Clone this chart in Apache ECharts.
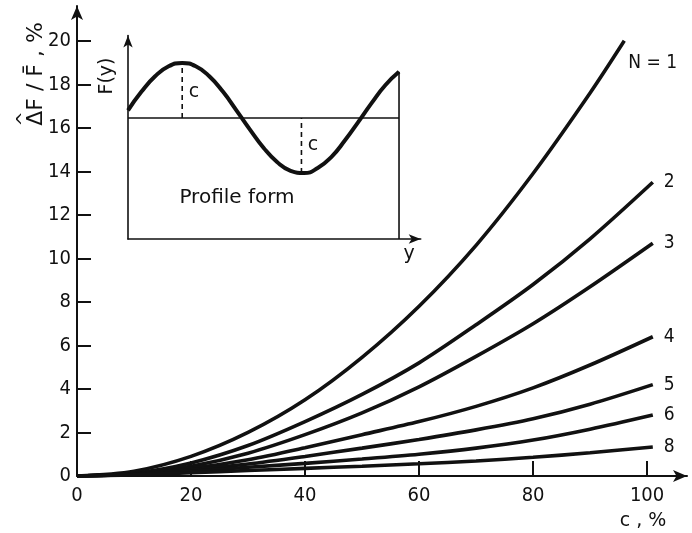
<!DOCTYPE html>
<html>
<head>
<meta charset="utf-8">
<script src="https://cdn.jsdelivr.net/npm/echarts@6/dist/echarts.min.js"></script>
<style>
html,body{margin:0;padding:0;background:#fff;}
#chart{width:692px;height:533px;}
</style>
</head>
<body>
<div id="chart"></div>
<script>
// ---- main chart data ----
const cN1 = [0, 10, 20, 30, 40, 50, 60, 70, 80, 90, 96];
const cOthers = [0, 10, 20, 30, 40, 50, 60, 70, 80, 90, 101];
const vN1 = [0, 0.22, 0.9, 2.0, 3.5, 5.45, 7.8, 10.6, 13.9, 17.6, 20.0];
const vN2 = [0, 0.13, 0.6, 1.4, 2.5, 3.75, 5.2, 6.95, 8.8, 10.9, 13.5];
const vN3 = [0, 0.11, 0.45, 1.05, 1.9, 2.9, 4.1, 5.5, 7.0, 8.7, 10.7];
const vN4 = [0, 0.09, 0.35, 0.75, 1.3, 1.9, 2.5, 3.2, 4.05, 5.1, 6.4];
const vN5 = [0, 0.08, 0.28, 0.55, 0.9, 1.28, 1.68, 2.12, 2.63, 3.3, 4.2];
const vN6 = [0, 0.07, 0.22, 0.4, 0.58, 0.78, 1.0, 1.28, 1.65, 2.15, 2.8];
const vN8 = [0, 0.05, 0.15, 0.25, 0.35, 0.45, 0.56, 0.69, 0.86, 1.07, 1.33];
const seriesNames = ['N = 1', '2', '3', '4', '5', '6', '8'];
const xTicks = [0, 20, 40, 60, 80, 100];
const yTicks = [0, 2, 4, 6, 8, 10, 12, 14, 16, 18, 20];

// ---- inset (profile form) data ----
const profileY = [0, 0.5, 1, 1.5, 2, 2.5, 3, 3.5, 4, 4.5, 5, 5.5, 6, 6.5, 7, 7.5, 8, 8.5, 9, 9.5, 10];
const profileF = [2.34, 2.68, 2.96, 3.14, 3.2, 3.14, 2.96, 2.68, 2.34, 1.99, 1.66, 1.4, 1.24, 1.2, 1.29, 1.49, 1.79, 2.13, 2.48, 2.8, 3.04];
const profileMean = 2.2;
const peakY = 2, peakF = 3.2;
const troughY = 6.4, troughF = 1.2;
const profileEnd = 10;

const NUMFONT = "'DejaVu Sans Condensed', 'Liberation Sans Narrow', 'DejaVu Sans', sans-serif";
const TXTFONT = "'DejaVu Sans', sans-serif";
const INK = '#111';

const mainSets = [vN1, vN2, vN3, vN4, vN5, vN6, vN8];
const mainSeries = mainSets.map((vals, i) => {
  const cs = i === 0 ? cN1 : cOthers;
  return {
    name: seriesNames[i],
    type: 'line',
    xAxisIndex: 0, yAxisIndex: 0,
    data: vals.map((v, k) => [cs[k], v]),
    smooth: 0.3,
    symbol: 'none',
    lineStyle: { color: INK, width: 3.6 },
    endLabel: {
      show: true,
      formatter: '{a}',
      color: INK,
      fontFamily: NUMFONT,
      fontSize: 19,
      offset: i === 0 ? [-4, 22] : [3, 0]
    },
    silent: true,
    z: 3
  };
});

const inkLine = (w) => ({ color: INK, width: w });

const insetSeries = [
  {
    type: 'line', xAxisIndex: 1, yAxisIndex: 1,
    data: profileY.map((y, k) => [y, profileF[k]]),
    smooth: 0.5, symbol: 'none', lineStyle: inkLine(4), silent: true
  },
  {
    type: 'line', xAxisIndex: 1, yAxisIndex: 1,
    data: [[0, profileMean], [profileEnd, profileMean]],
    symbol: 'none', lineStyle: inkLine(1.4), silent: true
  },
  {
    type: 'line', xAxisIndex: 1, yAxisIndex: 1,
    data: [[profileEnd, 0], [profileEnd, profileF[profileF.length - 1]]],
    symbol: 'none', lineStyle: inkLine(1.6), silent: true
  },
  {
    type: 'line', xAxisIndex: 1, yAxisIndex: 1,
    data: [[peakY, profileMean], [peakY, peakF]],
    symbol: 'none', lineStyle: { color: INK, width: 1.6, type: [5, 4] }, silent: true
  },
  {
    type: 'line', xAxisIndex: 1, yAxisIndex: 1,
    data: [[troughY, troughF], [troughY, profileMean]],
    symbol: 'none', lineStyle: { color: INK, width: 1.6, type: [5, 4] }, silent: true
  }
];

const chart = echarts.init(document.getElementById('chart'), null, { renderer: 'canvas' });
chart.setOption({
  backgroundColor: '#fff',
  animation: false,
  grid: [
    { left: 77, top: 6, width: 610, height: 470 },
    { left: 128, top: 35.5, width: 292.7, height: 203.5 }
  ],
  xAxis: [
    {
      gridIndex: 0, type: 'value', min: 0, max: 107, interval: 20,
      axisLine: { show: true, onZero: false, symbol: ['none', 'arrow'], symbolSize: [9, 14], lineStyle: { color: INK, width: 2 } },
      axisTick: { show: true, inside: true, length: 15, customValues: xTicks, lineStyle: { color: INK, width: 2 } },
      axisLabel: { customValues: xTicks, color: INK, fontFamily: NUMFONT, fontSize: 20, margin: 10 },
      splitLine: { show: false }
    },
    {
      gridIndex: 1, type: 'value', min: 0, max: 10.8,
      axisLine: { show: true, onZero: false, symbol: ['none', 'arrow'], symbolSize: [7, 12], lineStyle: { color: INK, width: 1.6 } },
      axisTick: { show: false }, axisLabel: { show: false }, splitLine: { show: false }
    }
  ],
  yAxis: [
    {
      gridIndex: 0, type: 'value', min: 0, max: 21.6, interval: 2,
      axisLine: { show: true, onZero: false, symbol: ['none', 'arrow'], symbolSize: [9, 14], lineStyle: { color: INK, width: 2 } },
      axisTick: { show: true, inside: true, length: 14, customValues: yTicks, lineStyle: { color: INK, width: 2 } },
      axisLabel: { customValues: yTicks, color: INK, fontFamily: NUMFONT, fontSize: 20, margin: 6 },
      splitLine: { show: false }
    },
    {
      gridIndex: 1, type: 'value', min: 0, max: 3.7,
      axisLine: { show: true, onZero: false, symbol: ['none', 'arrow'], symbolSize: [7, 12], lineStyle: { color: INK, width: 1.6 } },
      axisTick: { show: false }, axisLabel: { show: false }, splitLine: { show: false }
    }
  ],
  graphic: [
    {
      type: 'text', x: 36, y: 74, rotation: Math.PI / 2,
      style: { text: 'ΔF / F\u0304 , %', fill: INK, font: '22px ' + TXTFONT, align: 'center', verticalAlign: 'middle' }
    },
    {
      type: 'text', x: 24, y: 119, rotation: Math.PI / 2,
      style: { text: '^', fill: INK, font: '18px ' + TXTFONT, align: 'center', verticalAlign: 'middle' }
    },
    {
      type: 'text', x: 643, y: 521,
      style: { text: 'c , %', fill: INK, font: '19px ' + TXTFONT, align: 'center', verticalAlign: 'middle' }
    },
    {
      type: 'text', x: 107, y: 76, rotation: Math.PI / 2,
      style: { text: 'F(y)', fill: INK, font: '19px ' + TXTFONT, align: 'center', verticalAlign: 'middle' }
    },
    {
      type: 'text', x: 409, y: 254,
      style: { text: 'y', fill: INK, font: '19px ' + TXTFONT, align: 'center', verticalAlign: 'middle' }
    },
    {
      type: 'text', x: 194, y: 92,
      style: { text: 'c', fill: INK, font: '19px ' + TXTFONT, align: 'center', verticalAlign: 'middle' }
    },
    {
      type: 'text', x: 313, y: 145,
      style: { text: 'c', fill: INK, font: '19px ' + TXTFONT, align: 'center', verticalAlign: 'middle' }
    },
    {
      type: 'text', x: 237, y: 198,
      style: { text: 'Profile form', fill: INK, font: '20px ' + TXTFONT, align: 'center', verticalAlign: 'middle' }
    }
  ],
  series: mainSeries.concat(insetSeries)
});
</script>
</body>
</html>
